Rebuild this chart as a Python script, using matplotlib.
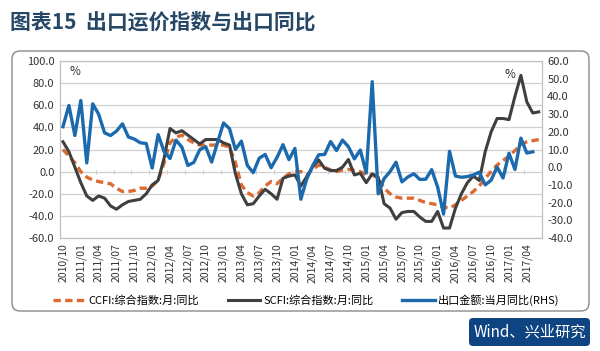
import matplotlib
matplotlib.use("Agg")
import matplotlib.pyplot as plt
from matplotlib.patches import FancyBboxPatch
from matplotlib.lines import Line2D

plt.rcParams['font.family'] = ['Noto Sans CJK SC', 'DejaVu Sans']

# ---- data (monthly, 2010/10 .. 2017/06) ----
months = []
y, m = 2010, 10
while (y, m) <= (2017, 6):
    months.append(f"{y}/{m:02d}")
    m += 1
    if m > 12:
        m = 1
        y += 1

ccfi_yoy = [20, 14, 8, 0, -5, -7.5, -9, -10, -11, -15, -18, -18, -17, -15, -15, -13, -8, 8, 26, 31,
            33, 29, 26, 24, 24, 24, 24, 24, 22, 8, -12, -19, -22, -19, -13, -9, -11, -6, -2, 0,
            0, -3, 2, 6, 4, 1.5, 0, 1.5, 2, 1, 0, -3, -3, -6, -15, -20, -23, -24, -24, -24,
            -26, -28, -29, -30, -32, -33, -30, -26, -22, -18, -13, -6, 0, 6, 10, 14, 19, 24, 27, 28,
            29]
scfi_yoy = [27, 18, 4, -10, -22, -26, -22, -24, -31, -34, -30, -27, -26, -25, -20, -12, -8, 12, 39, 35,
            37, 33, 29, 25, 29, 29, 29, 26, 24, -2, -20, -30, -29, -22, -16, -20, -25, -6, -4, -3,
            -13, -4.5, 4.5, 10.5, 3, 1, 1, 4, 11, -3, -1.5, -10, -2, -5, -29, -33, -43, -37, -36, -36,
            -41, -45, -45, -36, -51, -51, -33, -20, -10, -4, -8, 18, 36, 48, 48, 47, 68, 87, 63, 53,
            54]
export_yoy = [22.9, 34.9, 17.9, 37.7, 2.4, 35.8, 29.9, 19.4, 17.9, 20.4, 24.5, 17.1, 15.9, 13.8, 13.4, -0.5, 18.4, 8.9, 4.9, 15.3,
              11.3, 1.0, 2.7, 9.9, 11.6, 2.9, 14.1, 25.0, 21.8, 10.0, 14.7, 1.0, -3.1, 5.1, 7.2, -0.3, 5.6, 12.7, 4.3, 10.6,
              -18.1, -6.6, 0.9, 7.0, 7.2, 14.5, 9.4, 15.3, 11.6, 4.7, 9.7, -3.3, 48.3, -15.0, -6.4, -2.5, 2.8, -8.3, -5.5, -3.7,
              -6.9, -6.8, -1.4, -11.2, -26.5, 9.0, -5.0, -5.7, -5.3, -4.4, -2.8, -10.0, -7.3, 0.1, -6.1, 7.9, -1.3, 16.4, 8.0, 8.7]

left_ticks = [-60, -40, -20, 0, 20, 40, 60, 80, 100]
right_ticks = [-40, -30, -20, -10, 0, 10, 20, 30, 40, 50, 60]
label_step = 3

series_names = ["CCFI:综合指数:月:同比", "SCFI:综合指数:月:同比", "出口金额:当月同比(RHS)"]
title_text = "图表15  出口运价指数与出口同比"
source_text = "Wind、兴业研究"

# ---- styling ----
C_ORANGE = "#DC6A32"
C_DARK = "#3F3F3F"
C_BLUE = "#1B6AAE"
C_GRID = "#D0D0D0"
C_TEXT = "#333333"

fig = plt.figure(figsize=(6.0, 3.51), dpi=100)
fig.patch.set_facecolor("white")

# outer rounded border
border = FancyBboxPatch((0.12, 0.40), 5.77, 2.60, boxstyle="round,pad=0,rounding_size=0.08",
                        transform=fig.dpi_scale_trans, facecolor="none", edgecolor="#8A8A8A",
                        linewidth=1.0, zorder=-1)
fig.patches.append(border)

# source box
src = FancyBboxPatch((4.69, 0.05), 1.21, 0.28, boxstyle="round,pad=0,rounding_size=0.04",
                     transform=fig.dpi_scale_trans, facecolor="#0E4482", edgecolor="none", zorder=1)
fig.patches.append(src)
fig.text(5.295, 0.19, source_text, transform=fig.dpi_scale_trans, color="white",
         fontsize=11, ha="center", va="center")

fig.text(0.10 / 6.0, 1 - 22 / 351, title_text, color="#274766", fontsize=15, fontweight="bold",
         ha="left", va="center")

ax = fig.add_axes([60 / 600, 1 - 238 / 351, 481.7 / 600, 177 / 351])
ax.patch.set_alpha(0)
ax2 = ax.twinx()

x = list(range(len(months)))
ax.plot(x, ccfi_yoy, color=C_ORANGE, lw=2.4, ls=(0, (2.2, 1.3)), zorder=3)
ax.plot(x, scfi_yoy, color=C_DARK, lw=2.2, zorder=3)
ax2.plot(x[:len(export_yoy)], export_yoy, color=C_BLUE, lw=2.4, zorder=4)

ax.set_xlim(-0.5, len(months) - 0.5)
ax.set_ylim(left_ticks[0], left_ticks[-1])
ax2.set_ylim(right_ticks[0], right_ticks[-1])
ax.set_yticks(left_ticks)
ax2.set_yticks(right_ticks)
ax.set_yticklabels([f"{v:.1f}" for v in left_ticks], fontsize=8, color=C_TEXT)
ax2.set_yticklabels([f"{v:.1f}" for v in right_ticks], fontsize=8, color=C_TEXT)
ax.yaxis.grid(True, color=C_GRID, lw=0.9)
ax.set_axisbelow(True)
ax.tick_params(axis="y", length=0, pad=4)
ax2.tick_params(axis="y", length=0, pad=4)

ticks = x[::label_step]
ax.set_xticks(ticks)
ax.set_xticklabels([months[i] for i in ticks], rotation=90, fontsize=7.5, color=C_TEXT)
ax.tick_params(axis="x", length=0, pad=4)

# small category tick marks on the zero line
zero_frac = (0 - left_ticks[0]) / (left_ticks[-1] - left_ticks[0])
sec = ax.secondary_xaxis(zero_frac)
sec.set_xticks([t + 2.5 for t in range(0, len(months) - 3, 3)])
sec.tick_params(axis="x", direction="inout", length=3, color="#C8C8C8", labelbottom=False,
                labeltop=False, width=0.8)
sec.spines["bottom"].set_visible(False)
sec.spines["top"].set_visible(False)

for a in (ax, ax2):
    for s in a.spines.values():
        s.set_color("#BFBFBF")
        s.set_linewidth(0.8)

ax.text(0.02, 0.94, "%", transform=ax.transAxes, fontsize=8.5, color=C_TEXT, ha="left", va="center")
ax2.text(0.935, 0.925, "%", transform=ax2.transAxes, fontsize=8.5, color=C_TEXT, ha="center", va="center")

handles = [Line2D([], [], color=C_ORANGE, lw=2.4, ls=(0, (2.2, 1.3))),
           Line2D([], [], color=C_DARK, lw=2.2),
           Line2D([], [], color=C_BLUE, lw=2.4)]
fig.legend(handles, series_names, loc="center", bbox_to_anchor=(0.51, 1 - 300 / 351), ncol=3,
           frameon=False, fontsize=8, handlelength=2.9, handletextpad=0.3, columnspacing=2.6)

fig.savefig("out.png", dpi=100)
